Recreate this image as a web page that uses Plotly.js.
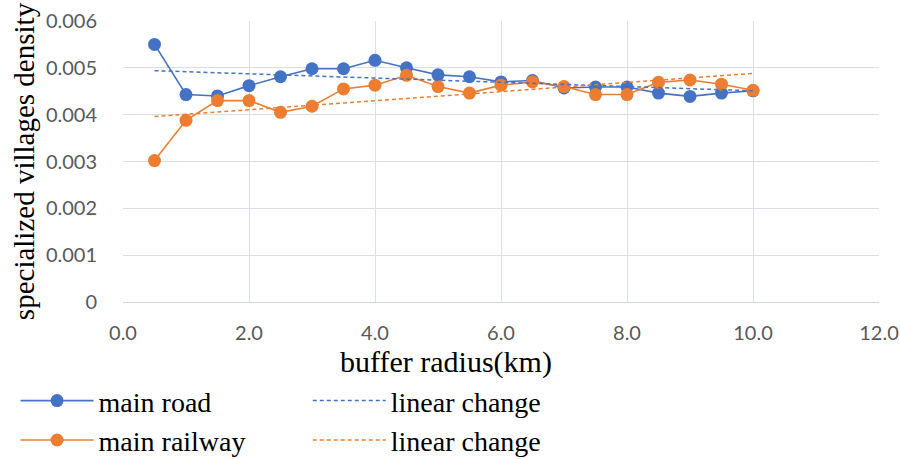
<!DOCTYPE html>
<html>
<head>
<meta charset="utf-8">
<script src="https://cdn.plot.ly/plotly-3.0.1.min.js"></script>
<style>
html,body{margin:0;padding:0;background:#fff;}
#chart{width:900px;height:459px;}
</style>
</head>
<body>
<div id="chart"></div>
<script>
const radius = [0.5,1.0,1.5,2.0,2.5,3.0,3.5,4.0,4.5,5.0,5.5,6.0,6.5,7.0,7.5,8.0,8.5,9.0,9.5,10.0];
const mainRoad = [0.00550,0.00443,0.00440,0.00462,0.00481,0.00498,0.00498,0.00516,0.00500,0.00485,0.00481,0.00470,0.00473,0.00457,0.00459,0.00459,0.00446,0.00439,0.00446,0.00451];
const mainRailway = [0.00302,0.00388,0.00430,0.00430,0.00405,0.00418,0.00455,0.00463,0.00484,0.00460,0.00446,0.00463,0.00470,0.00460,0.00443,0.00443,0.00469,0.00474,0.00465,0.00452];
const trendX = [0.5, 10.0];
const roadTrend = [0.00494, 0.00451];
const railTrend = [0.00396, 0.00488];
const xTicks = [0,2,4,6,8,10,12];
const xTickText = ["0.0","2.0","4.0","6.0","8.0","10.0","12.0"];
const yTicks = [0,0.001,0.002,0.003,0.004,0.005,0.006];
const yTickText = ["0","0.001","0.002","0.003","0.004","0.005","0.006"];
const xTitle = 'buffer radius(km)';
const yTitle = 'specialized villages density';

const blue = '#4472C4', orange = '#ED7D31';
const traces = [
  {x: radius, y: mainRoad, name: 'main road', mode: 'lines+markers', legend: 'legend',
   line: {color: blue, width: 1.6}, marker: {color: blue, size: 13}},
  {x: radius, y: mainRailway, name: 'main railway', mode: 'lines+markers', legend: 'legend',
   line: {color: orange, width: 1.6}, marker: {color: orange, size: 13}},
  {x: trendX, y: roadTrend, name: 'linear change', mode: 'lines', legend: 'legend2',
   line: {color: blue, width: 1.5, dash: '4px,3px'}},
  {x: trendX, y: railTrend, name: 'linear change', mode: 'lines', legend: 'legend2',
   line: {color: orange, width: 1.5, dash: '4px,3px'}}
];
const serifFam = 'Liberation Serif, Times New Roman, serif';
const tickFont = {family: 'Lato', size: 20, color: '#595959'};
const titleFont = {family: serifFam, size: 30, color: '#000'};
const yTitleFont = {family: serifFam, size: 29, color: '#000'};
const legFont = {family: serifFam, size: 28, color: '#000'};
const layout = {
  width: 900, height: 459,
  margin: {l: 123, r: 21, t: 21, b: 157},
  paper_bgcolor: '#fff', plot_bgcolor: '#fff',
  showlegend: true,
  xaxis: {range: [0, 12], tickvals: xTicks, ticktext: xTickText, tickfont: tickFont,
    showgrid: true, gridcolor: '#dadee6', gridwidth: 1, zeroline: false,
    showline: true, linecolor: '#d0d4d9', ticks: '', ticklabelstandoff: 13,
    automargin: false},
  yaxis: {range: [0, 0.006], tickvals: yTicks, ticktext: yTickText, tickfont: tickFont,
    showgrid: true, gridcolor: '#dadee6', gridwidth: 1, zeroline: false,
    showline: false, ticks: '', ticklabelstandoff: 25, automargin: false,
    title: {text: yTitle, font: yTitleFont, standoff: 2}},
  annotations: [
    {text: xTitle, xref: 'paper', yref: 'paper', x: 0.4267, y: -0.2135,
     xanchor: 'center', yanchor: 'middle', showarrow: false, font: titleFont}
  ],
  legend: {xref: 'paper', yref: 'container', x: -0.1421, y: 0.181, xanchor: 'left', yanchor: 'top',
    orientation: 'v', font: legFont, itemwidth: 73, bgcolor: 'rgba(0,0,0,0)', tracegroupgap: 0},
  legend2: {xref: 'paper', yref: 'container', x: 0.2444, y: 0.181, xanchor: 'left', yanchor: 'top',
    orientation: 'v', font: legFont, itemwidth: 73, bgcolor: 'rgba(0,0,0,0)', tracegroupgap: 0}
};
Plotly.newPlot('chart', traces, layout, {displayModeBar: false, responsive: false});
</script>
</body>
</html>
